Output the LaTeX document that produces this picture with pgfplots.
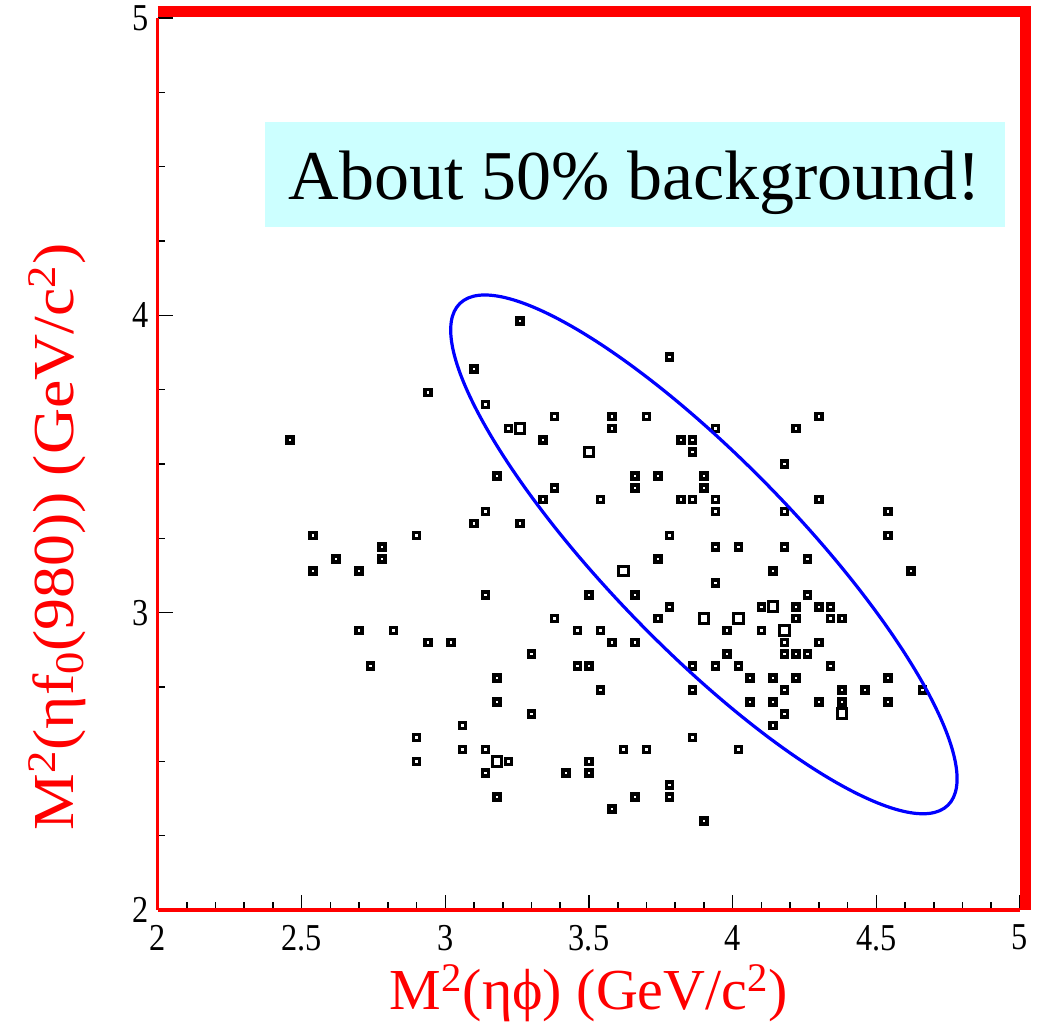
\documentclass[border=0pt]{standalone}
\usepackage{pgfplots}
\usepackage{pgfplotstable}
\pgfplotsset{compat=1.18}
\usepackage{fontspec}
\setmainfont{Liberation Serif}
\newfontfamily\tickfont[FakeStretch=0.85]{Liberation Serif}
\newfontfamily\wideserif[FakeStretch=1.1]{Liberation Serif}
\definecolor{notecyan}{RGB}{204,255,255}

% bins holding one event
\pgfplotstableread{
x y
2.46 3.58
2.94 3.74
3.10 3.82
3.14 3.70
3.14 3.34
3.10 3.30
2.54 3.26
2.90 3.26
2.78 3.22
2.62 3.18
2.78 3.18
2.54 3.14
2.70 3.14
3.14 3.06
2.70 2.94
2.82 2.94
2.94 2.90
3.02 2.90
2.74 2.82
3.06 2.62
2.90 2.58
3.06 2.54
3.14 2.54
2.90 2.50
3.14 2.46
3.22 2.50
3.18 2.38
3.18 2.78
3.18 2.70
3.22 3.62
3.18 3.46
3.26 3.30
3.26 3.98
3.78 3.86
3.38 3.66
3.58 3.66
3.70 3.66
3.58 3.62
3.34 3.58
3.82 3.58
3.86 3.58
3.86 3.54
3.66 3.46
3.74 3.46
3.90 3.46
3.38 3.42
3.66 3.42
3.90 3.42
3.34 3.38
3.54 3.38
3.82 3.38
3.86 3.38
3.78 3.26
3.74 3.18
3.94 3.62
4.30 3.66
4.22 3.62
4.18 3.50
3.94 3.38
3.94 3.34
4.18 3.34
4.30 3.38
4.54 3.34
4.54 3.26
3.94 3.22
4.02 3.22
4.18 3.22
4.26 3.18
4.14 3.14
4.62 3.14
3.50 3.06
3.66 3.06
3.78 3.02
3.38 2.98
3.74 2.98
3.46 2.94
3.54 2.94
3.58 2.90
3.66 2.90
3.30 2.86
3.46 2.82
3.50 2.82
3.86 2.82
3.54 2.74
3.86 2.74
3.30 2.66
3.86 2.58
3.62 2.54
3.70 2.54
3.50 2.50
3.42 2.46
3.50 2.46
3.66 2.38
3.78 2.42
3.78 2.38
3.58 2.34
3.90 2.30
3.94 3.10
4.26 3.06
4.10 3.02
4.22 3.02
4.30 3.02
4.34 3.02
4.22 2.98
4.34 2.98
4.38 2.98
3.98 2.94
4.10 2.94
4.18 2.90
4.30 2.90
3.98 2.86
4.18 2.86
4.22 2.86
4.26 2.86
3.94 2.82
4.02 2.82
4.34 2.82
4.06 2.78
4.14 2.78
4.22 2.78
4.54 2.78
4.18 2.74
4.38 2.74
4.46 2.74
4.66 2.74
4.06 2.70
4.14 2.70
4.30 2.70
4.38 2.70
4.54 2.70
4.18 2.66
4.14 2.62
4.02 2.54
}\singlebins

% bins holding two events
\pgfplotstableread{
x y
3.26 3.62
3.50 3.54
3.62 3.14
3.90 2.98
4.02 2.98
4.14 3.02
4.18 2.94
4.38 2.66
3.18 2.50
}\doublebins

\begin{document}
\begin{tikzpicture}
\path[use as bounding box] (-79pt,-56pt) rectangle (441.5pt,455pt);
\begin{axis}[
  scale only axis,
  width=431pt, height=446pt,
  xmin=2, xmax=5, ymin=2, ymax=5,
  axis x line*=bottom, axis y line*=left,
  x axis line style={red, line width=2pt},
  y axis line style={red, line width=1.5pt},
  xtick={2,2.5,3,3.5,4,4.5,5},
  ytick={2,3,4,5},
  minor x tick num=4, minor y tick num=3,
  tick align=inside,
  major tick length=7.5pt, minor tick length=3.75pt,
  tick style={black, line width=0.8pt},
  /pgf/number format/assume math mode=true,
  ticklabel style={font=\tickfont\fontsize{19}{21}\selectfont},
  xticklabel style={yshift=-4pt},
  yticklabel style={xshift=-1pt},
  xlabel={M\textsuperscript{2}(ηϕ) (GeV/c\textsuperscript{2})},
  xlabel style={red, font=\fontsize{29}{32}\selectfont,
    at={(axis description cs:0.5,0)}, anchor=base, yshift=-50pt},
  ylabel={M\textsuperscript{2}(ηf\textsubscript{0}(980)) (GeV/c\textsuperscript{2})},
  ylabel style={red, font=\wideserif\fontsize{29}{32}\selectfont,
    at={(axis description cs:-0.098,0.418)}, anchor=base, rotate=0},
  clip=false,
]
\node[fill=notecyan, minimum width=370pt, inner sep=0pt,
      text height=39pt, text depth=13.5pt,
      font=\fontsize{35}{40}\selectfont] at (axis cs:3.66,4.474) {About 50\% background!};

\addplot[only marks, mark=square, mark size=1.5pt, black, line width=1.8pt]
  table[x=x, y=y] {\singlebins};
\addplot[only marks, mark=square, mark size=2.4pt, black, line width=1.5pt]
  table[x=x, y=y] {\doublebins};

\coordinate (ellc) at (axis cs:3.90,3.196);
\end{axis}
% selection ellipse
\draw[blue, line width=1.6pt, rotate around={-45.8:(ellc)}]
  (ellc) ellipse [x radius=175pt, y radius=47pt];
% heavy frame on top and right
\draw[red, line width=5.5pt, line join=miter]
  ([yshift=3pt]current axis.north west) -- ([xshift=3pt,yshift=3pt]current axis.north east)
  -- ([xshift=3pt]current axis.south east);
\end{tikzpicture}
\end{document}
